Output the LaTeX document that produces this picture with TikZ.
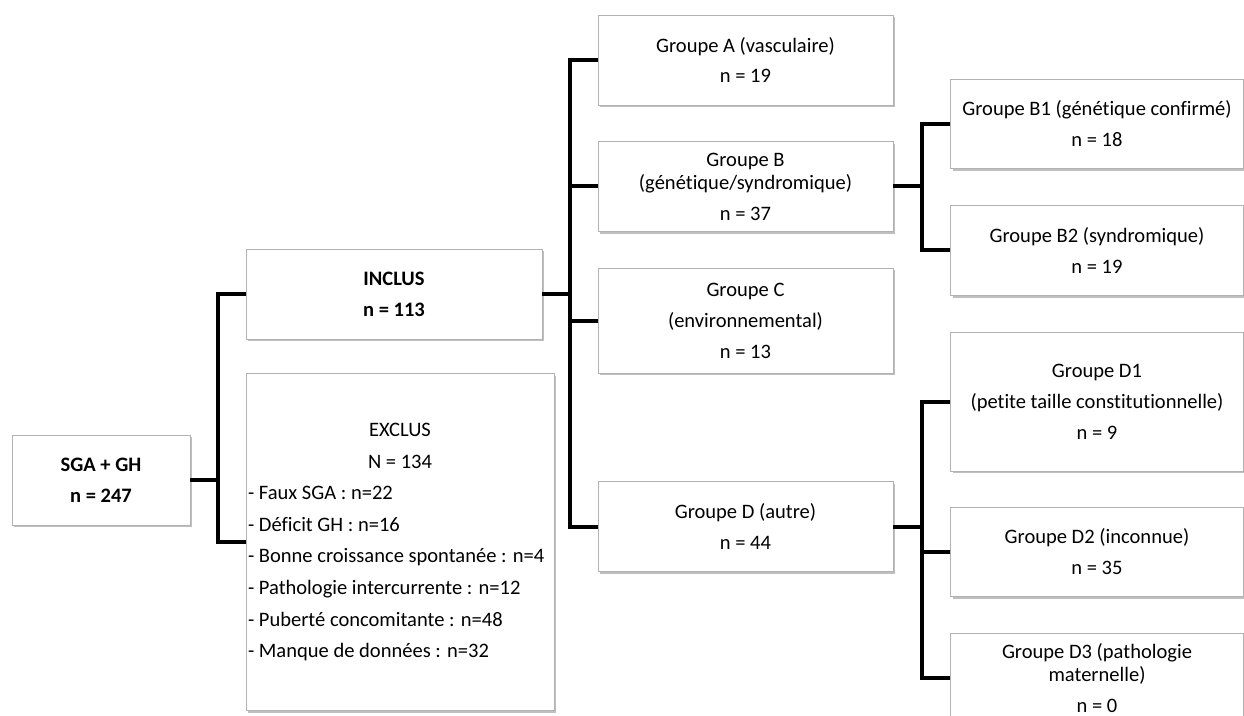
\documentclass[tikz,border=0pt]{standalone}
\usepackage{fontspec}
\setmainfont[Ligatures=NoCommon]{Carlito}
\usepackage{tikz}
\usetikzlibrary{positioning}
\usetikzlibrary{shadows}

\tikzset{
  box/.style={draw=gray!60, line width=0.7pt, fill=white, inner sep=0pt, align=center,
    font=\fontsize{15.4}{17.2}\selectfont,
    drop shadow={shadow xshift=1.5pt, shadow yshift=-1.8pt, fill=black, opacity=0.25}},
  grp/.style={box, minimum width=221.25pt, minimum height=67.5pt},
  sub/.style={box, minimum width=219.75pt, minimum height=67pt},
  link/.style={line width=3pt}
}

\begin{document}
\begin{tikzpicture}[x=0.75pt, y=-0.75pt]
  \useasboundingbox (0,0) rectangle (1244,716);

  % first level
  \node[box, minimum width=133.5pt, minimum height=67.5pt, font=\fontsize{15.4}{17.2}\selectfont\bfseries]
    (sga) at (101,480) {SGA + GH\\[6pt] n = 247};
  \node[box, minimum width=222pt, minimum height=67.5pt, font=\fontsize{15.4}{17.2}\selectfont\bfseries]
    (incl) at (394,294) {INCLUS\\[6pt] n = 113};
  \node[box, minimum width=231pt, minimum height=252.75pt, align=left]
    (excl) at (400,542) {\makebox[228pt]{EXCLUS}\\[6.5pt]
      \makebox[228pt]{N = 134}\\[6.5pt]
      - Faux SGA : n=22\\[6.5pt]
      - Déficit GH : n=16\\[6.5pt]
      - Bonne croissance spontanée : n=4\\[6.5pt]
      - Pathologie intercurrente : n=12\\[6.5pt]
      - Puberté concomitante : n=48\\[6.5pt]
      - Manque de données : n=32};

  % groups
  \node[grp] (grpA) at (745.5,60) {Groupe A (vasculaire)\\[6pt] n = 19};
  \node[grp] (grpB) at (745.5,186.5) {Groupe B\\ (génétique/syndromique)\\[6pt] n = 37};
  \node[grp, minimum height=78.75pt] (grpC) at (745.5,320.5) {Groupe C\\[6pt] (environnemental)\\[6pt] n = 13};
  \node[grp] (grpD) at (745.5,526.5) {Groupe D (autre)\\[6pt] n = 44};

  % sub groups
  \node[sub] (grpBa) at (1097,124) {Groupe B1 (génétique confirmé)\\[6pt] n = 18};
  \node[sub] (grpBb) at (1097,250.5) {Groupe B2 (syndromique)\\[6pt] n = 19};
  \node[sub, minimum height=104.25pt] (grpDa) at (1097,401.5) {Groupe D1\\[6pt] (petite taille constitutionnelle)\\[6pt] n = 9};
  \node[sub] (grpDb) at (1097,552) {Groupe D2 (inconnue)\\[6pt] n = 35};
  \node[sub] (grpDc) at (1097,678) {Groupe D3 (pathologie\\ maternelle)\\[6pt] n = 0};

  % connectors
  \coordinate (j1) at (218,480);
  \coordinate (j2) at (570,294);
  \coordinate (j3) at (922,186.5);
  \coordinate (j4) at (922,526.5);

  \draw[link] (sga.east) -- (j1);
  \draw[link] (incl.west) -| (j1) |- (excl.west);

  \draw[link] (incl.east) -- (j2);
  \draw[link] (grpA.west) -| (j2) |- (grpD.west);
  \draw[link] (j2 |- grpB.west) -- (grpB.west);
  \draw[link] (j2 |- grpC.west) -- (grpC.west);

  \draw[link] (grpB.east) -- (j3);
  \draw[link] (grpBa.west) -| (j3) |- (grpBb.west);

  \draw[link] (grpD.east) -- (j4);
  \draw[link] (grpDa.west) -| (j4) |- (grpDc.west);
  \draw[link] (j4 |- grpDb.west) -- (grpDb.west);
\end{tikzpicture}
\end{document}
